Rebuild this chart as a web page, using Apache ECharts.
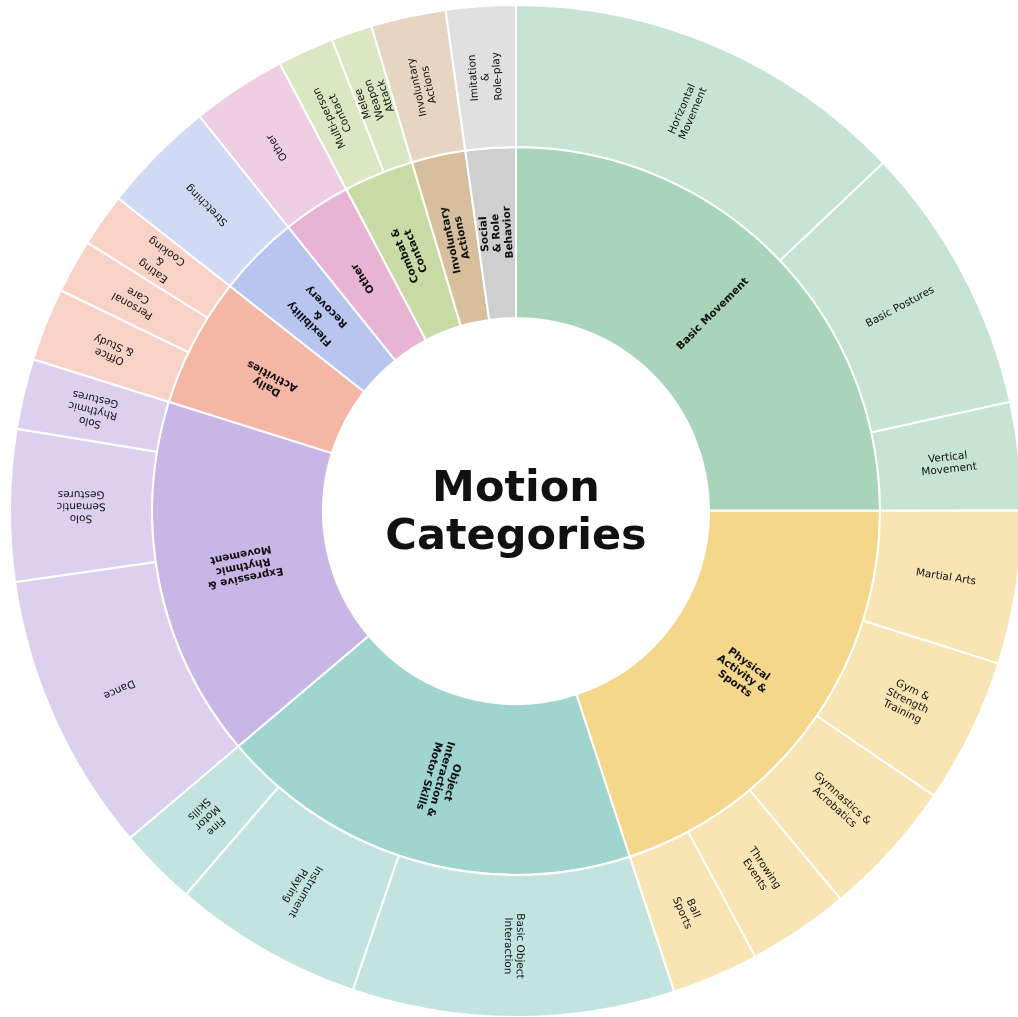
<!DOCTYPE html>
<html>
<head>
<meta charset="utf-8">
<script src="https://cdn.jsdelivr.net/npm/echarts@6/dist/echarts.min.js"></script>
<style>
  html, body { margin: 0; padding: 0; background: #fff; }
  #chart { width: 1018px; height: 1017px; }
</style>
</head>
<body>
<div id="chart"></div>
<script>
// top-level categories (inner ring), clockwise from 12 o'clock
const categories = [
  'Basic Movement', 'Physical\nActivity &\nSports', 'Object\nInteraction &\nMotor Skills',
  'Expressive &\nRhythmic\nMovement', 'Daily\nActivities', 'Flexibility\n&\nRecovery',
  'Other', 'Combat &\nContact', 'Involuntary\nActions', 'Social\n& Role\nBehavior'
];
const innerColors = ['#a8d4b9', '#f5d78b', '#9fd4cf', '#c8b6e6', '#f5b7a5',
  '#b7c5ef', '#e7b4d4', '#c9dba5', '#d7bf9e', '#cfcfcf'];
const outerColors = ['#c6e3d4', '#f9e5b4', '#c2e4df', '#dbd1ef', '#f8d1c7',
  '#d0daf4', '#efcde2', '#dbe6c2', '#e6d6c1', '#e0e0e0'];

// sub-categories (outer ring), one list per category
const subLabels = [
  ['Horizontal\nMovement', 'Basic Postures', 'Vertical\nMovement'],
  ['Martial Arts', 'Gym &\nStrength\nTraining', 'Gymnastics &\nAcrobatics', 'Throwing\nEvents', 'Ball\nSports'],
  ['Basic Object\nInteraction', 'Instrument\nPlaying', 'Fine\nMotor\nSkills'],
  ['Dance', 'Solo\nSemantic\nGestures', 'Solo\nRhythmic\nGestures'],
  ['Office\n& Study', 'Personal\nCare', 'Eating\n&\nCooking'],
  ['Stretching'],
  ['Other'],
  ['Multi-person\nContact', 'Melee\nWeapon\nAttack'],
  ['Involuntary\nActions'],
  ['Imitation\n&\nRole-play']
];
const subValues = [
  [465, 310, 124],
  [176, 167, 158, 117, 100],
  [370, 219, 90],
  [322, 174, 81],
  [84, 62, 61],
  [131],
  [109],
  [65, 47],
  [86],
  [80]
];

const total = subValues.flat().reduce((a, b) => a + b, 0);
let cum = 0;
const midAngle = (v) => 90 - (cum + v / 2) / total * 360;

const data = categories.map((name, i) => {
  const sum = subValues[i].reduce((a, b) => a + b, 0);
  return {
    name: name,
    itemStyle: { color: innerColors[i] },
    label: { rotate: midAngle(sum), fontWeight: 'bold', fontSize: 10.5, lineHeight: 12 },
    children: subLabels[i].map((sub, j) => {
      const v = subValues[i][j];
      const child = {
        name: sub,
        value: v,
        itemStyle: { color: outerColors[i] },
        label: { rotate: midAngle(v), fontSize: 10.5, lineHeight: 12 }
      };
      cum += v;
      return child;
    })
  };
});

const chart = echarts.init(document.getElementById('chart'));
chart.setOption({
  animation: false,
  graphic: [{
    type: 'text',
    x: 516,
    y: 514,
    style: {
      text: 'Motion\nCategories',
      fontSize: 43,
      fontWeight: 'bold',
      fontFamily: 'DejaVu Sans',
      fill: '#111',
      align: 'center',
      verticalAlign: 'middle',
      lineHeight: 48
    }
  }],
  series: [{
    type: 'sunburst',
    center: [516, 511],
    radius: [193, 506],
    startAngle: 90,
    sort: null,
    data: data,
    itemStyle: { borderColor: '#fff', borderWidth: 2 },
    label: {
      color: '#111',
      fontFamily: 'DejaVu Sans',
      align: 'center',
      minAngle: 0
    },
    levels: [
      {},
      { r0: 193, r: 364 },
      { r0: 364, r: 506 }
    ]
  }]
});
</script>
</body>
</html>
